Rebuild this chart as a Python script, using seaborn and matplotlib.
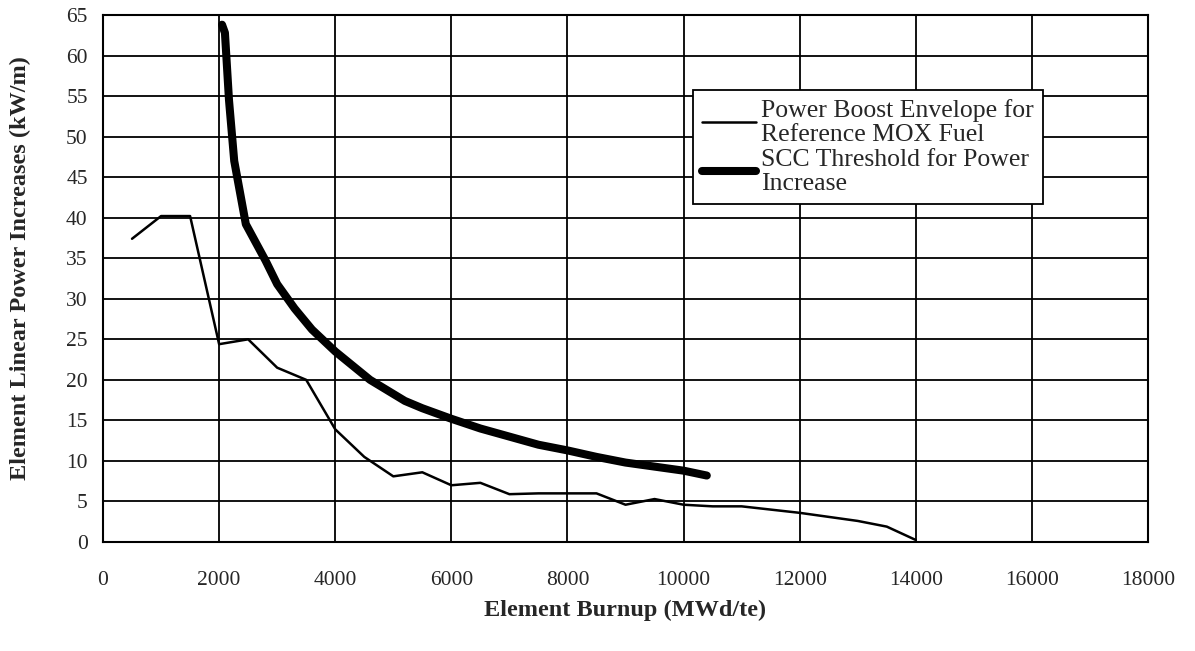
import pandas as pd
import seaborn as sns
import matplotlib.pyplot as plt

# Power boost envelope (thin line)
boost_burnup = [500, 1000, 1500, 2000, 2500, 3000, 3500, 4000, 4500, 5000, 5500,
                6000, 6500, 7000, 7500, 8000, 8500, 9000, 9500, 10000, 10500,
                11000, 11500, 12000, 12500, 13000, 13500, 14000]
boost_power = [37.4, 40.2, 40.2, 24.4, 25.0, 21.5, 20.0, 13.9, 10.5, 8.1, 8.6,
               7.0, 7.3, 5.9, 6.0, 6.0, 6.0, 4.6, 5.3, 4.6, 4.4,
               4.4, 4.0, 3.6, 3.1, 2.6, 1.9, 0.25]

# SCC threshold (thick line)
scc_burnup = [2050, 2100, 2170, 2260, 2460, 2800, 3000, 3300, 3600, 4000, 4600,
              5200, 5500, 6000, 6500, 7000, 7500, 8000, 8500, 9000, 9500, 10000, 10400]
scc_power = [63.8, 62.8, 54.5, 47.0, 39.2, 34.7, 31.8, 28.8, 26.2, 23.5, 20.0,
             17.4, 16.5, 15.2, 14.0, 13.0, 12.0, 11.3, 10.5, 9.8, 9.3, 8.8, 8.2]

label_boost = "Power Boost Envelope for\nReference MOX Fuel"
label_scc = "SCC Threshold for Power\nIncrease"

df_boost = pd.DataFrame({"burnup": boost_burnup, "power": boost_power})
df_scc = pd.DataFrame({"burnup": scc_burnup, "power": scc_power})

sns.set_style("white")
plt.rcParams["font.family"] = ["Liberation Serif", "DejaVu Serif"]

fig = plt.figure(figsize=(11.95, 6.51), dpi=100)
ax = fig.add_axes([0.0862, 0.1674, 0.8745, 0.8096])

sns.lineplot(data=df_boost, x="burnup", y="power", ax=ax, color="black",
             linewidth=1.8, label=label_boost, sort=False)
sns.lineplot(data=df_scc, x="burnup", y="power", ax=ax, color="black",
             linewidth=5.8, label=label_scc, sort=False,
             solid_capstyle="round")

ax.set_xlim(0, 18000)
ax.set_ylim(0, 65)
ax.set_xticks(range(0, 18001, 2000))
ax.set_yticks(range(0, 66, 5))
ax.grid(True, color="black", linewidth=1.3)
ax.set_axisbelow(True)
for s in ax.spines.values():
    s.set_color("black")
    s.set_linewidth(1.5)
ax.tick_params(axis="both", which="major", direction="out", length=6,
               width=1.3, color="black", labelsize=15.5)
ax.tick_params(axis="x", pad=15)
ax.tick_params(axis="y", pad=5)

ax.set_xlabel("Element Burnup (MWd/te)", fontsize=17.5, fontweight="bold", labelpad=7)
ax.set_ylabel("Element Linear Power Increases (kW/m)", fontsize=17.5,
              fontweight="bold")
ax.yaxis.set_label_coords(-0.069, 0.52)

leg = ax.legend(loc="upper left", bbox_to_anchor=(0.5645, 0.857), fontsize=18.5,
                frameon=True, fancybox=False, handlelength=2.1, handletextpad=0.2,
                borderpad=0.35, labelspacing=0.12, borderaxespad=0)
for t in leg.get_texts():
    t.set_linespacing(1.1)
leg.get_frame().set_edgecolor("black")
leg.get_frame().set_linewidth(1.3)
leg.get_frame().set_alpha(1)

fig.savefig("out.png", dpi=100)
